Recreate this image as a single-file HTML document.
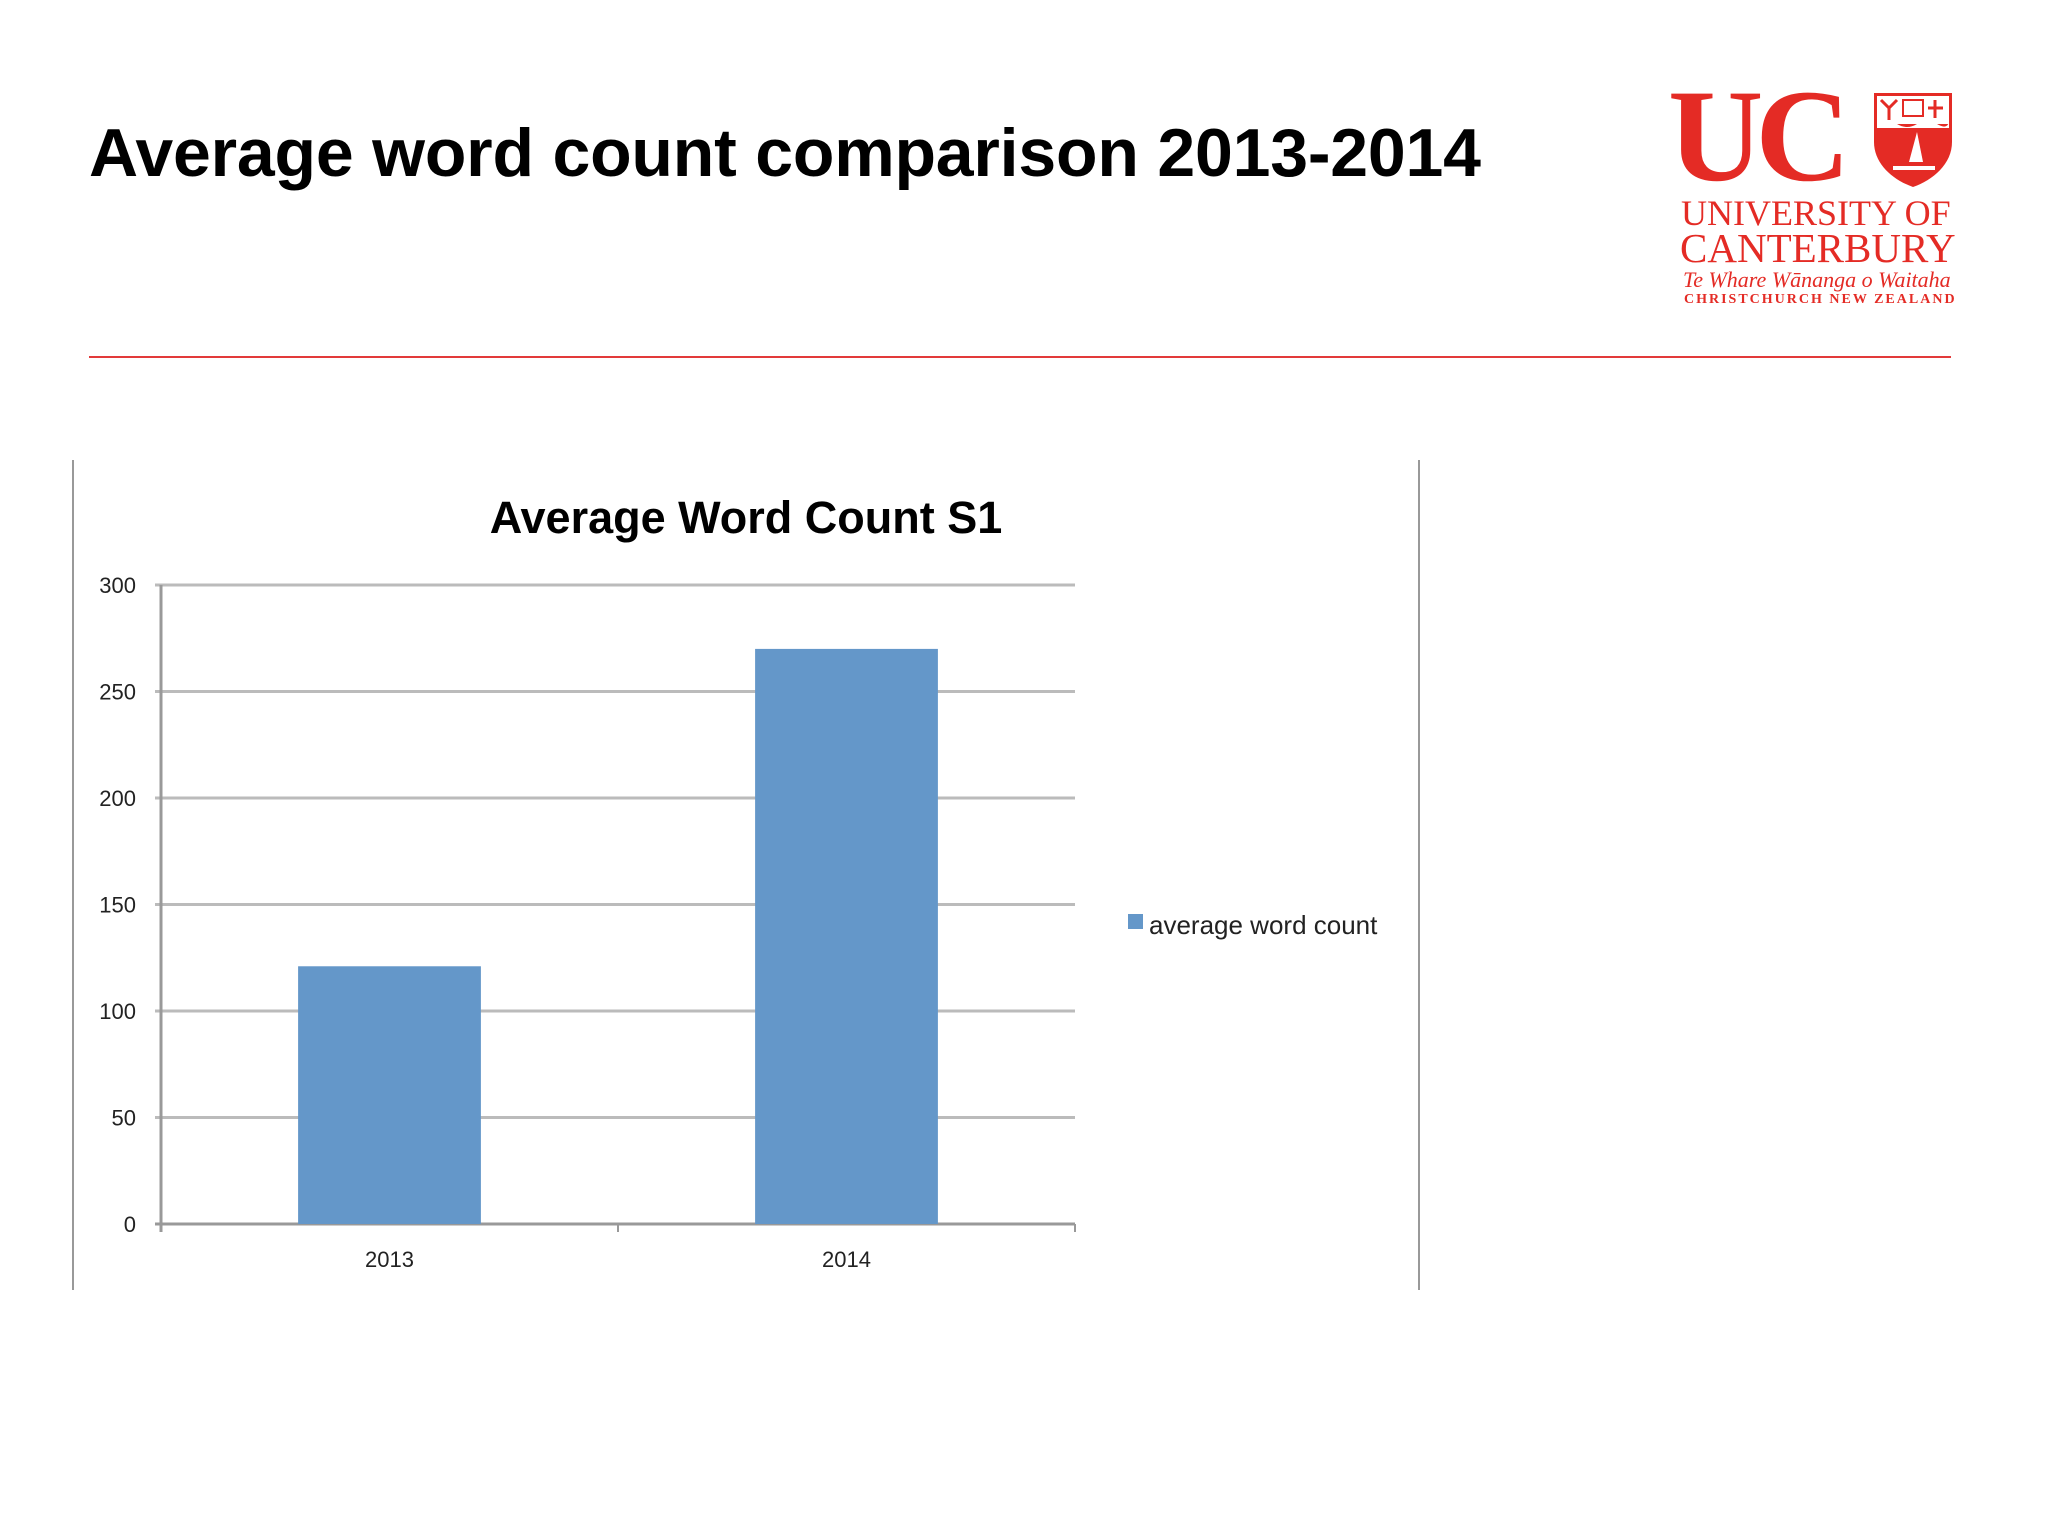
<!DOCTYPE html>
<html><head><meta charset="utf-8"><style>
body{margin:0;width:2048px;height:1536px;background:#fff;overflow:hidden;font-family:"Liberation Sans",sans-serif;position:relative}
.abs{position:absolute;white-space:nowrap}
</style></head><body>
<div class="abs" style="left:89px;top:114px;font-size:68px;font-weight:bold;color:#000;letter-spacing:-0.2px">Average word count comparison 2013-2014</div>
<div class="abs" style="left:89px;top:356px;width:1862px;height:2px;background:#e23a3a"></div>
<div>
<div class="abs" style="left:1668px;top:70px;font-family:'Liberation Serif',serif;font-weight:bold;font-size:132px;color:#e42b25;letter-spacing:-8px;line-height:1">UC</div>
<svg class="abs" style="left:1873px;top:92px" width="80" height="96" viewBox="0 0 80 96">
<path d="M1 1H79V50C79 72 60 88 40 95C20 88 1 72 1 50Z" fill="#e42b25"/>
<rect x="4" y="4" width="72" height="28" fill="#fff"/>
<path d="M4 32Q14 26 24 32T44 32T64 32T76 30V36H4Z" fill="#fff"/>
<rect x="30" y="8" width="20" height="16" fill="none" stroke="#e42b25" stroke-width="2"/>
<path d="M8 8L16 16L24 8M16 16V28" stroke="#e42b25" stroke-width="3" fill="none"/>
<path d="M62 8V26M55 16H70" stroke="#e42b25" stroke-width="3"/>
<path d="M36 70L44 40L50 70Z" fill="#fff"/><path d="M20 76H62" stroke="#fff" stroke-width="4"/>
</svg>
<div class="abs" style="left:1681px;top:192px;font-family:'Liberation Serif',serif;font-size:36px;color:#e42b25;letter-spacing:0px">UNIVERSITY OF</div>
<div class="abs" style="left:1680px;top:224px;font-family:'Liberation Serif',serif;font-size:41px;color:#e42b25;letter-spacing:0px">CANTERBURY</div>
<div class="abs" style="left:1683px;top:267px;font-family:'Liberation Serif',serif;font-style:italic;font-size:22px;color:#e42b25">Te Whare Wānanga o Waitaha</div>
<div class="abs" style="left:1684px;top:292px;font-family:'Liberation Serif',serif;font-weight:bold;font-size:14px;color:#e42b25;letter-spacing:2px">CHRISTCHURCH NEW ZEALAND</div>
</div>
<div class="abs" style="left:72px;top:460px;width:2px;height:830px;background:#999"></div>
<div class="abs" style="left:1418px;top:460px;width:2px;height:830px;background:#999"></div>
<svg class="abs" style="left:0;top:0" width="2048" height="1536" id="chart">
<text x="746" y="533" text-anchor="middle" font-family="Liberation Sans, sans-serif" font-weight="bold" font-size="45" fill="#000">Average Word Count S1</text>
</svg>
<script>
const categories=["2013","2014"];
const values=[121,270];
const yTicks=[0,50,100,150,200,250,300];
const seriesName="average word count";
const svg=document.getElementById('chart');
const NS="http://www.w3.org/2000/svg";
const x0=161,x1=1075,y0=1224,y1=585,ymax=300;
const yS=v=>y0-(v/ymax)*(y0-y1);
const cw=(x1-x0)/categories.length;
function mk(t,a){const e=document.createElementNS(NS,t);for(const k in a)e.setAttribute(k,a[k]);svg.appendChild(e);return e;}
yTicks.forEach(v=>{
 const l=mk('line',{x1:x0-6,x2:x1,y1:yS(v),y2:yS(v),stroke:v===0?'#999':'#bbb','stroke-width':3});
 
 
 const t=mk('text',{x:136,y:yS(v)+8,'text-anchor':'end','font-size':22,'font-family':'Liberation Sans, sans-serif',fill:'#222'});
 t.textContent=v;
 
 
});
const ax=mk('line',{x1:x0,x2:x0,y1:y1,y2:y0+8,stroke:'#999','stroke-width':3});


for(let i=0;i<=categories.length;i++){
 const tk=mk('line',{x1:x0+i*cw,x2:x0+i*cw,y1:y0,y2:y0+8,stroke:'#999','stroke-width':2});
 
 
}
categories.forEach((c,i)=>{
 const bw=cw*0.4,cx=x0+cw*(i+0.5);
 const r=mk('rect',{x:cx-bw/2,y:yS(values[i]),width:bw,height:y0-yS(values[i]),fill:'#6497c9'});
 
 
 const t=mk('text',{x:cx,y:1267,'text-anchor':'middle','font-size':22,'font-family':'Liberation Sans, sans-serif',fill:'#222'});
 t.textContent=c;
 
 
});
const sw=mk('rect',{x:1128,y:914,width:15,height:15,fill:'#6497c9'});


const lt=mk('text',{x:1149,y:934,'font-size':26,'font-family':'Liberation Sans, sans-serif',fill:'#222'});
lt.textContent=seriesName;


</script>
</body></html>
